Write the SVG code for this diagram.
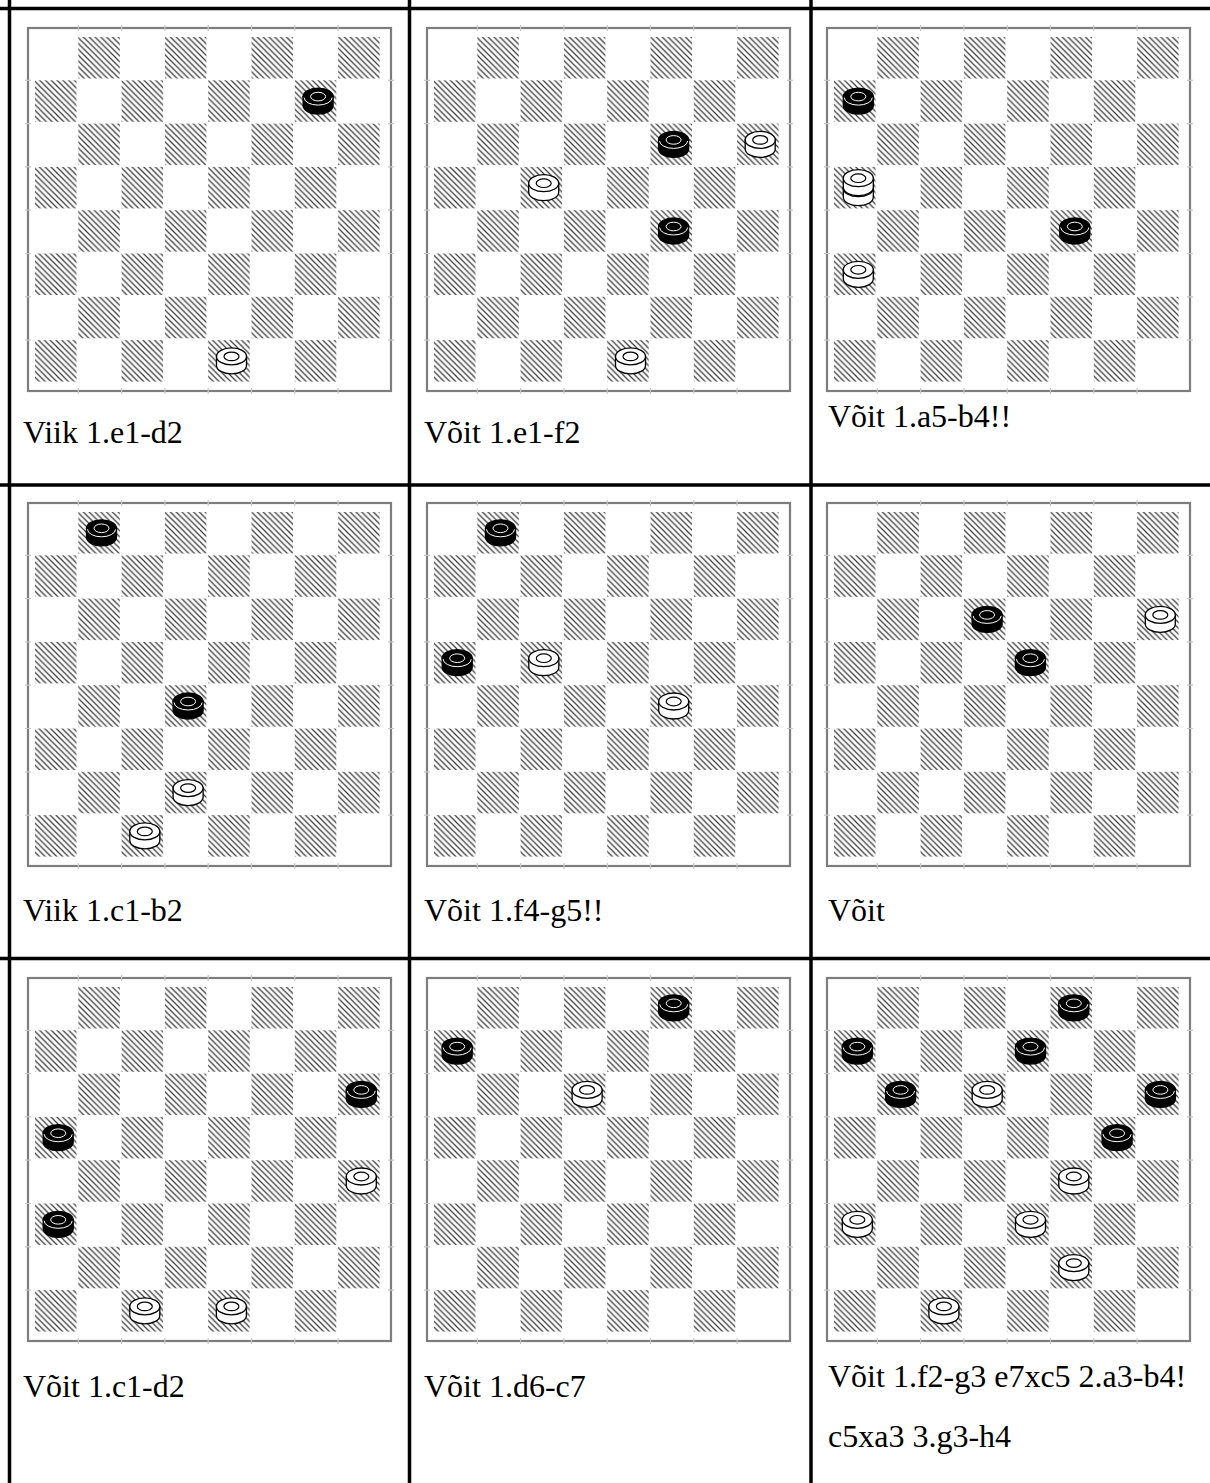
<svg xmlns="http://www.w3.org/2000/svg" xmlns:xlink="http://www.w3.org/1999/xlink" width="1210" height="1483" viewBox="0 0 1210 1483">
<style>
.grid{stroke:#000;stroke-width:3.5;fill:none}
.frame{fill:#fff;stroke:#7d7d7d;stroke-width:2.2}
.tick{stroke:#c8c8c8;stroke-width:1.2}
.dk{fill:url(#hatch)}
.lbl{font-family:"Liberation Serif","Times New Roman",serif;font-size:32px;fill:#000}
.wbody{fill:#fff;stroke:#000;stroke-width:1.3}
.bbody{fill:#000;stroke:#000;stroke-width:1.3}
.bring{fill:none;stroke:#fff;stroke-width:1}
.wring{fill:none;stroke:#000;stroke-width:1.2}
</style>
<defs>
<pattern id="hatch" width="5.8" height="5.8" patternUnits="userSpaceOnUse">
<path d="M-1,-1 L6.8,6.8 M-1,4.8 L1,6.8 M4.8,-1 L6.8,1" stroke="#3c3c3c" stroke-width="1.25"/>
</pattern>
<g id="board">
<rect class="frame" x="0" y="0" width="363" height="363"/>
<g class="tick">
<path d="M50.3,-3v6M93.6,-3v6M136.9,-3v6M180.2,-3v6M223.5,-3v6M266.8,-3v6M310.1,-3v6M50.3,360v6M93.6,360v6M136.9,360v6M180.2,360v6M223.5,360v6M266.8,360v6M310.1,360v6"/>
<path d="M-3,52.3h6M-3,95.6h6M-3,138.9h6M-3,182.2h6M-3,225.5h6M-3,268.8h6M-3,312.1h6M360,52.3h6M360,95.6h6M360,138.9h6M360,182.2h6M360,225.5h6M360,268.8h6M360,312.1h6"/>
</g>
<g class="dk">
<rect x="50.3" y="9" width="41.5" height="41.5"/><rect x="136.9" y="9" width="41.5" height="41.5"/><rect x="223.5" y="9" width="41.5" height="41.5"/><rect x="310.1" y="9" width="41.5" height="41.5"/>
<rect x="7" y="52.3" width="41.5" height="41.5"/><rect x="93.6" y="52.3" width="41.5" height="41.5"/><rect x="180.2" y="52.3" width="41.5" height="41.5"/><rect x="266.8" y="52.3" width="41.5" height="41.5"/>
<rect x="50.3" y="95.6" width="41.5" height="41.5"/><rect x="136.9" y="95.6" width="41.5" height="41.5"/><rect x="223.5" y="95.6" width="41.5" height="41.5"/><rect x="310.1" y="95.6" width="41.5" height="41.5"/>
<rect x="7" y="138.9" width="41.5" height="41.5"/><rect x="93.6" y="138.9" width="41.5" height="41.5"/><rect x="180.2" y="138.9" width="41.5" height="41.5"/><rect x="266.8" y="138.9" width="41.5" height="41.5"/>
<rect x="50.3" y="182.2" width="41.5" height="41.5"/><rect x="136.9" y="182.2" width="41.5" height="41.5"/><rect x="223.5" y="182.2" width="41.5" height="41.5"/><rect x="310.1" y="182.2" width="41.5" height="41.5"/>
<rect x="7" y="225.5" width="41.5" height="41.5"/><rect x="93.6" y="225.5" width="41.5" height="41.5"/><rect x="180.2" y="225.5" width="41.5" height="41.5"/><rect x="266.8" y="225.5" width="41.5" height="41.5"/>
<rect x="50.3" y="268.8" width="41.5" height="41.5"/><rect x="136.9" y="268.8" width="41.5" height="41.5"/><rect x="223.5" y="268.8" width="41.5" height="41.5"/><rect x="310.1" y="268.8" width="41.5" height="41.5"/>
<rect x="7" y="312.1" width="41.5" height="41.5"/><rect x="93.6" y="312.1" width="41.5" height="41.5"/><rect x="180.2" y="312.1" width="41.5" height="41.5"/><rect x="266.8" y="312.1" width="41.5" height="41.5"/>
</g>
</g>
<g id="wp">
<path class="wbody" d="M-15,-4.5 V4.5 A15,8.5 0 0 0 15,4.5 V-4.5 Z"/>
<ellipse class="wbody" cx="0" cy="-4.5" rx="15" ry="8.5"/>
<ellipse class="wring" cx="0" cy="-4.5" rx="7.5" ry="4.3"/>
</g>
<g id="bp">
<path class="bbody" d="M-15,-4.5 V4.5 A15,8.5 0 0 0 15,4.5 V-4.5 Z"/>
<ellipse class="bbody" cx="0" cy="-4.5" rx="15" ry="8.5"/>
<path class="bring" d="M-14,-3.5 A14,7.5 0 0 0 14,-3.5"/>
<ellipse class="bring" cx="0" cy="-4.5" rx="7.5" ry="4.3" stroke-width="1.3"/>
</g>
<g id="wk">
<use href="#wp" x="0" y="5"/>
<use href="#wp" x="0" y="-5"/>
</g>
</defs>

<g id="table" class="grid">
<path d="M0,8.5H1210M0,485H1210M0,958.5H1210"/>
<path d="M9.5,0V1483M409.5,0V1483M811,0V1483"/>
</g>

<g id="cell1">
<use href="#board" x="28" y="28"/>
<use href="#bp" x="318.1" y="101.1"/>
<use href="#wp" x="231.5" y="360.9"/>
<text class="lbl" x="23" y="443">Viik 1.e1-d2</text>
</g>

<g id="cell2">
<use href="#board" x="427" y="28"/>
<use href="#bp" x="673.6" y="144.4"/>
<use href="#wp" x="760.2" y="144.4"/>
<use href="#wp" x="543.7" y="187.7"/>
<use href="#bp" x="673.6" y="231"/>
<use href="#wp" x="630.5" y="360.9"/>
<text class="lbl" x="424" y="443">Võit 1.e1-f2</text>
</g>

<g id="cell3">
<use href="#board" x="827" y="28"/>
<use href="#bp" x="858.3" y="101.1"/>
<use href="#wk" x="858.3" y="187.7"/>
<use href="#bp" x="1074.8" y="231"/>
<use href="#wp" x="858.3" y="274.3"/>
<text class="lbl" x="828" y="427">Võit 1.a5-b4!!</text>
</g>

<g id="cell4">
<use href="#board" x="28" y="503"/>
<use href="#bp" x="101.5" y="532.8"/>
<use href="#bp" x="188.1" y="706"/>
<use href="#wp" x="188.1" y="792.6"/>
<use href="#wp" x="144.8" y="835.9"/>
<text class="lbl" x="23" y="921">Viik 1.c1-b2</text>
</g>

<g id="cell5">
<use href="#board" x="427" y="503"/>
<use href="#bp" x="500.5" y="532.8"/>
<use href="#bp" x="457.2" y="662.7"/>
<use href="#wp" x="543.8" y="662.7"/>
<use href="#wp" x="673.7" y="706"/>
<text class="lbl" x="424" y="921">Võit 1.f4-g5!!</text>
</g>

<g id="cell6">
<use href="#board" x="827" y="503"/>
<use href="#bp" x="987.1" y="619.4"/>
<use href="#wp" x="1160.3" y="619.4"/>
<use href="#bp" x="1030.4" y="662.7"/>
<text class="lbl" x="828" y="921">Võit</text>
</g>

<g id="cell7">
<use href="#board" x="28" y="978"/>
<use href="#bp" x="361.3" y="1094.4"/>
<use href="#bp" x="58.2" y="1137.7"/>
<use href="#wp" x="361.3" y="1181"/>
<use href="#bp" x="58.2" y="1224.3"/>
<use href="#wp" x="144.8" y="1310.9"/>
<use href="#wp" x="231.4" y="1310.9"/>
<text class="lbl" x="23" y="1397">Võit 1.c1-d2</text>
</g>

<g id="cell8">
<use href="#board" x="427" y="978"/>
<use href="#bp" x="673.7" y="1007.8"/>
<use href="#bp" x="457.2" y="1051.1"/>
<use href="#wp" x="587.1" y="1094.4"/>
<text class="lbl" x="424" y="1397">Võit 1.d6-c7</text>
</g>

<g id="cell9">
<use href="#board" x="827" y="978"/>
<use href="#bp" x="1073.8" y="1007.8"/>
<use href="#bp" x="857.3" y="1051.1"/>
<use href="#bp" x="1030.5" y="1051.1"/>
<use href="#bp" x="900.6" y="1094.4"/>
<use href="#wp" x="987.2" y="1094.4"/>
<use href="#bp" x="1160.4" y="1094.4"/>
<use href="#bp" x="1117.1" y="1137.7"/>
<use href="#wp" x="1073.8" y="1181"/>
<use href="#wp" x="857.3" y="1224.3"/>
<use href="#wp" x="1030.5" y="1224.3"/>
<use href="#wp" x="1073.8" y="1267.6"/>
<use href="#wp" x="943.9" y="1310.9"/>
<text class="lbl" x="828" y="1387">Võit 1.f2-g3 e7xc5 2.a3-b4!</text>
<text class="lbl" x="828" y="1447">c5xa3 3.g3-h4</text>
</g>
</svg>
